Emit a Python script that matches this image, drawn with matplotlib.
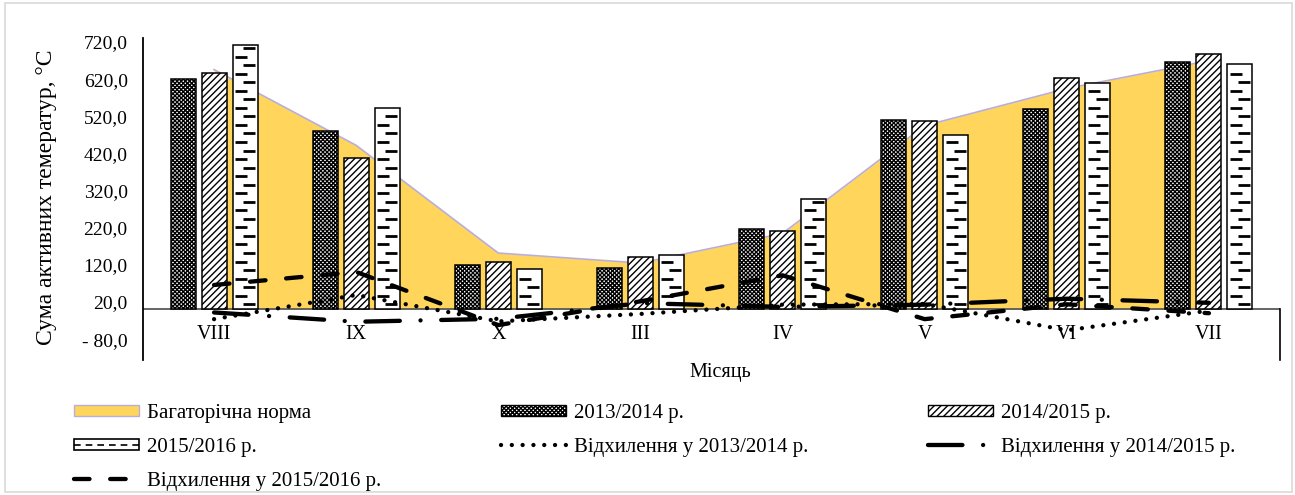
import numpy as np
import matplotlib.pyplot as plt
from matplotlib.patches import Patch, Rectangle
from matplotlib.lines import Line2D

plt.rcParams['font.family'] = ['Liberation Serif', 'DejaVu Serif']
plt.rcParams['hatch.linewidth'] = 1.0

# дані: суми активних температур по місяцях
months = ['VIII', 'IX', 'X', 'III', 'IV', 'V', 'VI', 'VII']
norm = [646, 442, 152, 125, 205, 495, 595, 670]
t2013 = [620, 481, 120, 113, 218, 510, 539, 667]
t2014 = [638, 409, 127, 142, 212, 508, 624, 688]
t2015 = [712, 543, 110, 147, 297, 469, 609, 660]
dev2013 = [-26, 39, -32, -12, 13, 15, -56, -3]
dev2014 = [-8, -33, -25, 17, 7, 13, 29, 18]
dev2015 = [66, 101, -42, 22, 92, -26, 14, -10]
yticks = np.arange(-80, 721, 100)

W, H = 1295, 495
fig = plt.figure(figsize=(W / 100, H / 100), dpi=100)
ax = fig.add_axes([143 / W, 1 - 360 / H, (1280 - 143) / W, (360 - 38) / H])

x = np.arange(len(months))
yellow = '#FFD65B'
hatch13 = 'xxxxxxxx'

# багаторічна норма - площа
ax.fill_between(x, norm, 0, color=yellow, lw=0, zorder=1)
ax.plot(x, norm, color='#B9AEDB', lw=1.2, zorder=1.2)

bw = 0.176
step = 0.218
ax.bar(x - step, t2013, bw, facecolor='white', edgecolor='black', hatch=hatch13, lw=1.1, zorder=2)
ax.bar(x, t2014, bw, facecolor='white', edgecolor='black', hatch='/////', lw=1.1, zorder=2)
ax.bar(x + step, t2015, bw, facecolor='white', edgecolor='black', lw=1.1, zorder=2)

# короткі горизонтальні штрихи всередині стовпців 2015/2016
for i, v in enumerate(t2015):
    rows = np.arange(14, v - 6, 23)
    offs = np.where(np.arange(len(rows)) % 2 == 0, 0.028, -0.028)
    ax.plot(x[i] + step + offs, rows, ls='none', marker='_', ms=9, mew=2,
            color='black', zorder=2.5)

# відхилення
lw = 3.1
ax.plot(x, dev2013, color='black', lw=lw, ls=(0, (0.01, 2.5)),
        dash_capstyle='round', zorder=3)
ax.plot(x, dev2014, color='black', lw=lw, ls=(0, (8.0, 4.8, 0.01, 4.8)),
        dash_capstyle='round', zorder=3)
ax.plot(x, dev2015, color='black', lw=lw, ls=(0, (3.6, 4.8)),
        dash_capstyle='round', zorder=3)

ax.set_xlim(-0.5, len(months) - 0.5)
ax.set_ylim(-136, 731)
ax.axhline(0, color='#595959', lw=1.3, zorder=1.5)

for s in ['top', 'right', 'bottom']:
    ax.spines[s].set_visible(False)
ax.spines['left'].set_linewidth(1.3)

ax.set_yticks(yticks)
ax.set_yticklabels([(f'- {abs(v):.1f}' if v < 0 else f'{v:.1f}').replace('.', ',')
                    for v in yticks], fontsize=14)
ax.tick_params(axis='y', length=0, pad=11)
ax.set_xticks([])

for i, m in enumerate(months):
    ax.annotate(m, (x[i], 0), xytext=(0, -11), textcoords='offset points',
                ha='center', va='top', fontsize=14.5)

# правий край під віссю
ax.plot([len(months) - 0.5] * 2, [-136, 0], color='black', lw=1.2, clip_on=False)

fig.text(47 / W, 1 - 197 / H, 'Сума активних темератур, °С', rotation=90,
         ha='center', va='center', fontsize=17)
fig.text(720 / W, 1 - 372 / H, 'Місяць', ha='center', va='center', fontsize=14.5)

# легенда
h_norm = Patch(facecolor=yellow, edgecolor='#B9AEDB', lw=1)
h13 = Patch(facecolor='white', edgecolor='black', hatch=hatch13, lw=1)
h14 = Patch(facecolor='white', edgecolor='black', hatch='/////', lw=1)
h15 = (Patch(facecolor='white', edgecolor='black', lw=1.2),
       Line2D([], [], color='black', lw=1.2, ls=(0, (4, 3))))
l13 = Line2D([], [], color='black', lw=lw, ls=(0, (0.01, 2.5)), dash_capstyle='round')
l14 = Line2D([], [], color='black', lw=lw, ls=(0, (8.0, 4.8, 0.01, 4.8)), dash_capstyle='round')
l15 = Line2D([], [], color='black', lw=lw, ls=(0, (3.6, 4.8)), dash_capstyle='round')

handles = [h_norm, h15, l15, h13, l13, h14, l14]
labels = ['Багаторічна норма', '2015/2016 р.', 'Відхилення у 2015/2016 р.',
          '2013/2014 р.', 'Відхилення у 2013/2014 р.',
          '2014/2015 р.', 'Відхилення у 2014/2015 р.']
fig.legend(handles, labels, ncol=3, loc='upper left', bbox_to_anchor=(74 / W, 1 - 404 / H),
           frameon=False, fontsize=15, handlelength=3.1, handleheight=0.45,
           handletextpad=0.4, labelspacing=0.72, columnspacing=5.75, borderpad=0,
           borderaxespad=0)

fig.add_artist(Rectangle((5 / W, 3 / H), 1287 / W, 489 / H, transform=fig.transFigure,
                         fill=False, edgecolor='#D9D9D9', lw=1.2))

fig.savefig('out.png', dpi=100)
